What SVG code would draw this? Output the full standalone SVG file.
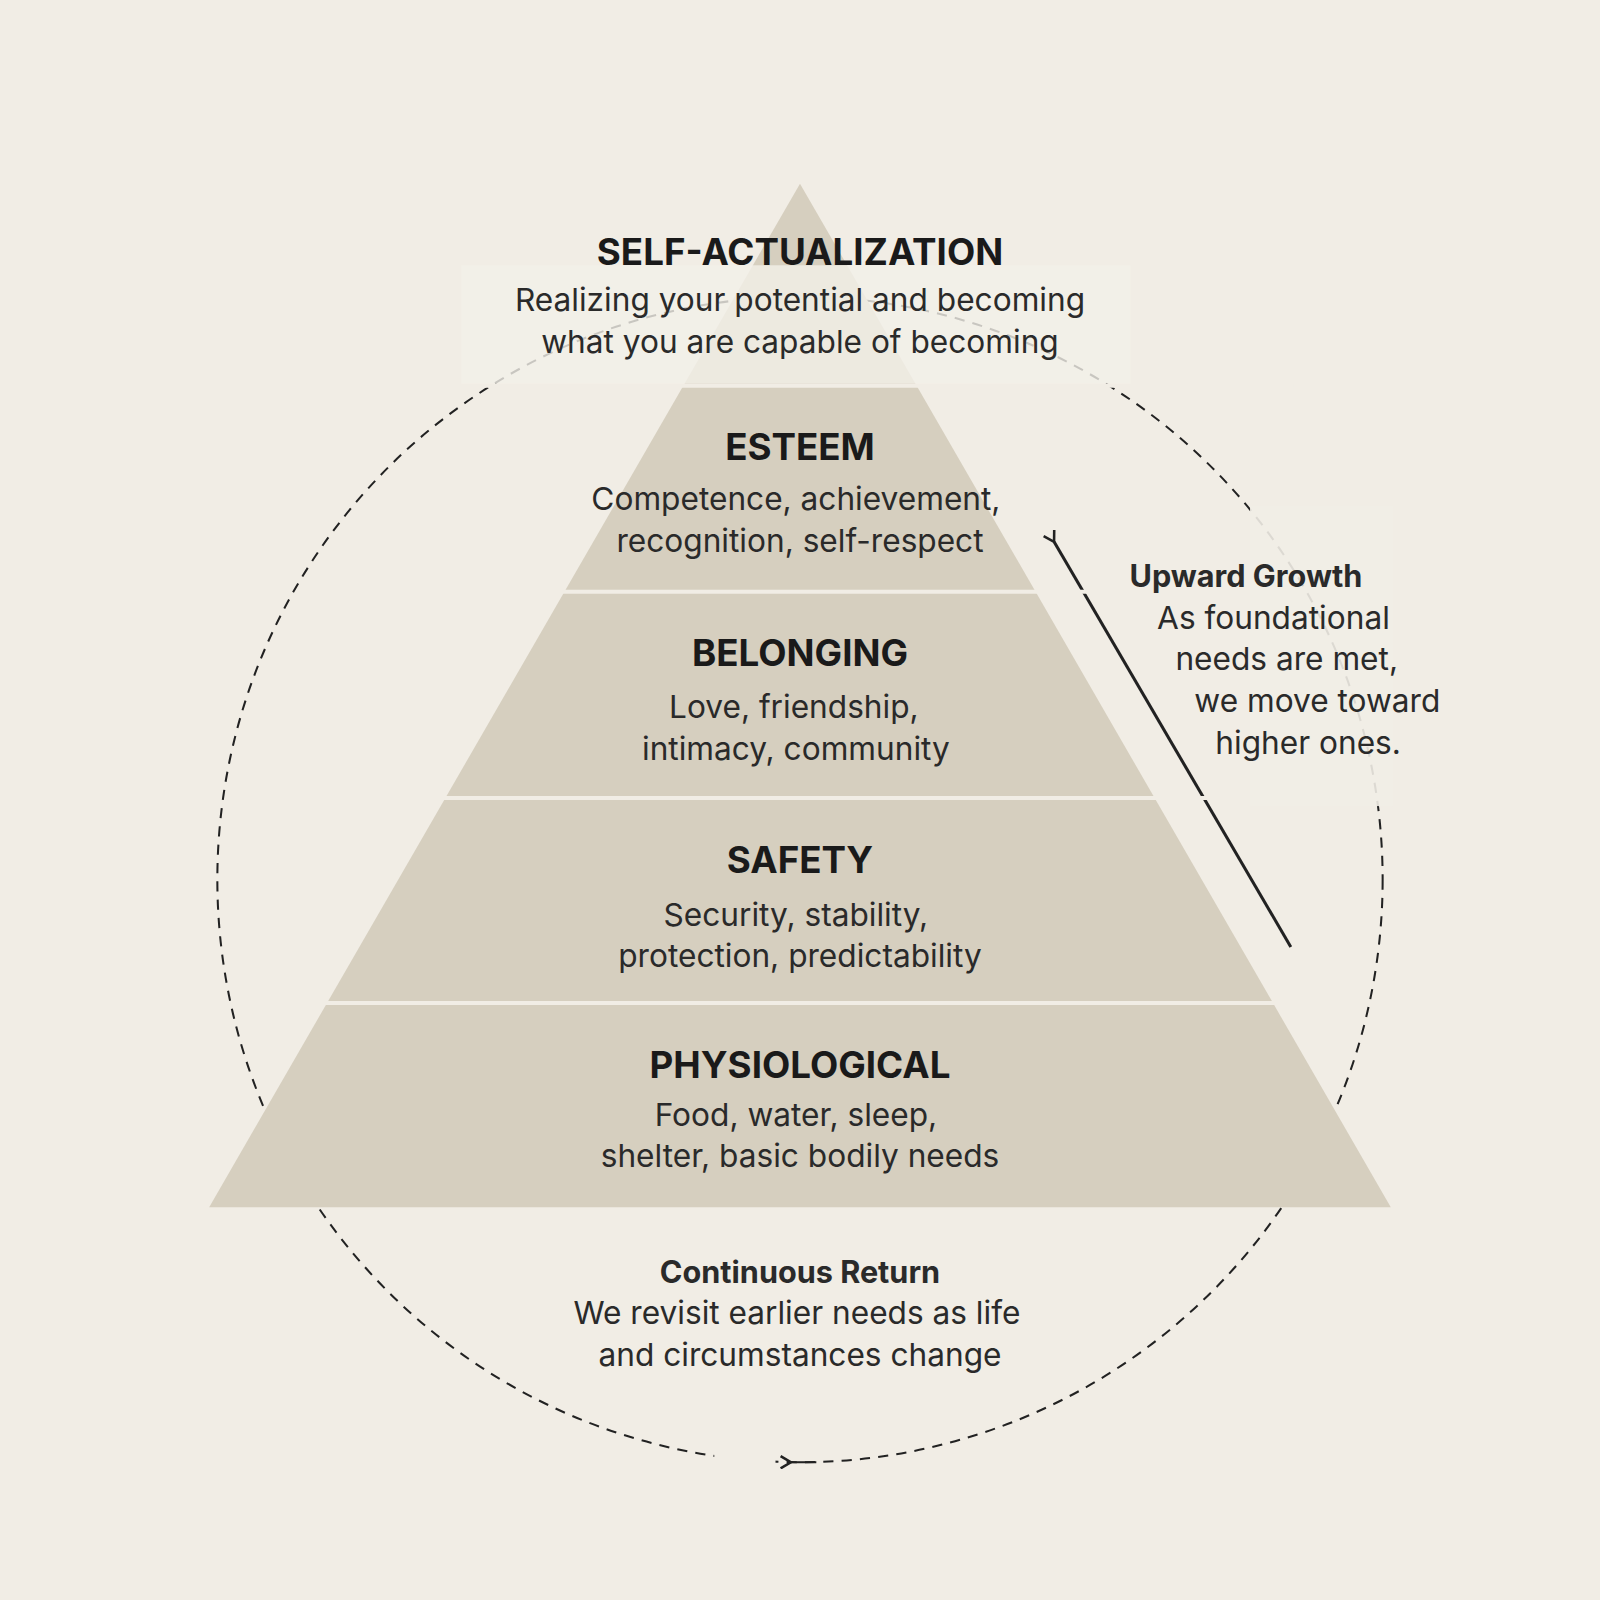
<svg xmlns="http://www.w3.org/2000/svg" width="1600" height="1600" viewBox="0 0 1600 1600">
<defs>
<style>
.t{font-family:Inter,"Noto Sans",sans-serif;font-weight:700;font-size:36px;fill:#1a1a1a;text-anchor:middle}
.b{font-family:Inter,"Noto Sans",sans-serif;font-size:31px;fill:#2a2a2a;text-anchor:middle}
.s{font-family:Inter,"Noto Sans",sans-serif;font-weight:700;font-size:30px;fill:#2a2a2a}
.layer{fill:#d6cfbf}
.sep{stroke:#f1ede5;stroke-width:4}
</style>
<marker id="open" markerWidth="14" markerHeight="14" refX="2" refY="7" orient="auto" markerUnits="userSpaceOnUse"><path d="M12,1 L2,7 L12,13" fill="none" stroke="#222" stroke-width="2.5"/></marker>
</defs>
<rect width="1600" height="1600" fill="#f1ede5"/>
<g transform="scale(1.0204)">
<g id="connectors">
<circle cx="784" cy="862" r="571" fill="none" stroke="#222" stroke-width="2" stroke-dasharray="10 8"/>
<path d="M800,1433 L775,1433" fill="none" stroke="#222" stroke-width="2" marker-end="url(#open)"/>
<path d="M1265,928 L1033,531" fill="none" stroke="#222" stroke-width="3" marker-end="url(#open)"/>
</g>
<g id="pyramid">
<polygon class="layer" points="784,180 205,1183 1363,1183"/>
<line class="sep" x1="300" y1="378" x2="1268" y2="378"/>
<line class="sep" x1="300" y1="580" x2="1268" y2="580"/>
<line class="sep" x1="300" y1="782" x2="1268" y2="782"/>
<line class="sep" x1="200" y1="983" x2="1368" y2="983"/>
</g>
<rect x="452" y="260" width="656" height="116" fill="#f3f0e9" opacity="0.8"/>
<rect x="1225" y="495" width="140" height="295" fill="#f1ede5" opacity="0.9"/>
<rect x="700" y="1420" width="60" height="26" fill="#f1ede5"/>
<g id="self-actualization">
<text class="t" x="784" y="260">SELF-ACTUALIZATION</text>
<text class="b" x="784" y="305">Realizing your potential and becoming</text>
<text class="b" x="784" y="346">what you are capable of becoming</text>
</g>
<g id="esteem">
<text class="t" x="784" y="451">ESTEEM</text>
<text class="b" x="780" y="500">Competence, achievement,</text>
<text class="b" x="784" y="541">recognition, self-respect</text>
</g>
<g id="belonging">
<text class="t" x="784" y="653">BELONGING</text>
<text class="b" x="778" y="704">Love, friendship,</text>
<text class="b" x="780" y="745">intimacy, community</text>
</g>
<g id="safety">
<text class="t" x="784" y="856">SAFETY</text>
<text class="b" x="780" y="907">Security, stability,</text>
<text class="b" x="784" y="948">protection, predictability</text>
</g>
<g id="physiological">
<text class="t" x="784" y="1056">PHYSIOLOGICAL</text>
<text class="b" x="780" y="1103">Food, water, sleep,</text>
<text class="b" x="784" y="1144">shelter, basic bodily needs</text>
</g>
<g id="upward">
<text class="s" x="1107" y="575">Upward Growth</text>
<text class="b" x="1248" y="616">As foundational</text>
<text class="b" x="1261" y="657">needs are met,</text>
<text class="b" x="1291" y="698">we move toward</text>
<text class="b" x="1282" y="739">higher ones.</text>
</g>
<g id="return">
<text class="s" x="784" y="1257" text-anchor="middle">Continuous Return</text>
<text class="b" x="781" y="1298">We revisit earlier needs as life</text>
<text class="b" x="784" y="1339">and circumstances change</text>
</g>
</g>
</svg>
